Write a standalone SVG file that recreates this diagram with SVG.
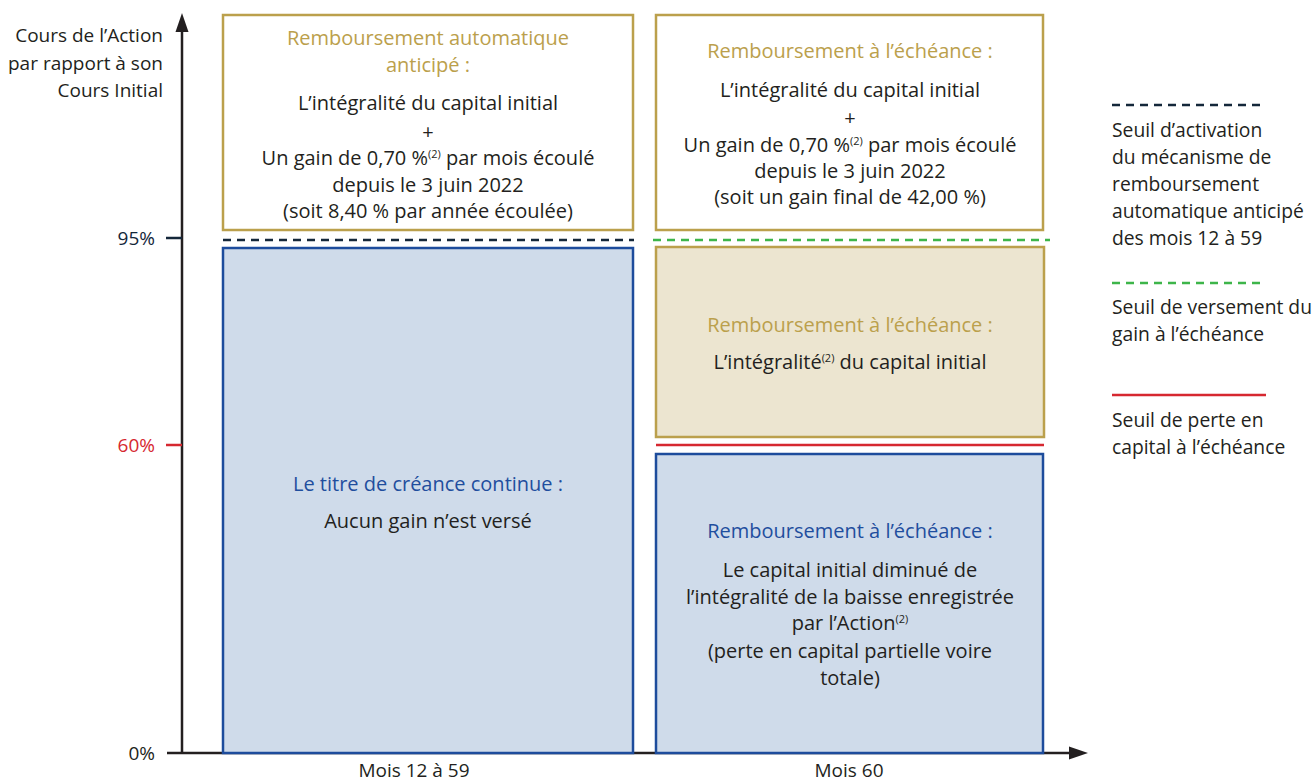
<svg xmlns="http://www.w3.org/2000/svg" width="1314" height="783" viewBox="0 0 1314 783">
<style>
text{font-family:"Open Sans","Noto Sans",sans-serif;font-size:19px;fill:#231F20}
.b{font-size:20px}
.lg{font-size:19.3px}
.c{text-anchor:middle}
.r{text-anchor:end}
.gold{fill:#BBA04C}
.blue{fill:#1F4E9E}
.sup{font-size:11px}
.goldbox{fill:#FFFFFF;stroke:#BBA04C;stroke-width:2.5}
.beigebox{fill:#ECE5D0;stroke:#BBA04C;stroke-width:2.5}
.bluebox{fill:#CFDBEA;stroke:#1D4C9C;stroke-width:2.5}
.axis{stroke:#231F20;stroke-width:2.5;fill:none}
.navy{stroke:#14273A;stroke-width:2.5;stroke-dasharray:8 6;fill:none}
.green{stroke:#3DB54A;stroke-width:2.5;stroke-dasharray:8 6;fill:none}
.red{stroke:#D62830;stroke-width:2.5;fill:none}
</style>
<rect width="1314" height="783" fill="#FFFFFF"/>
<g id="axes">
<line class="axis" x1="182" y1="28" x2="182" y2="754"/>
<polygon points="182,13 175.5,32 188.5,32" fill="#231F20"/>
<line class="axis" x1="167" y1="753" x2="1072" y2="753"/>
<polygon points="1088,753 1069,746.5 1069,759.5" fill="#231F20"/>
<line x1="166" y1="238" x2="182" y2="238" stroke="#14273A" stroke-width="2.5"/>
<line x1="166" y1="445" x2="182" y2="445" stroke="#D62830" stroke-width="2.5"/>
<text class="r" x="163" y="42">Cours de l’Action</text>
<text class="r" x="163" y="70">par rapport à son</text>
<text class="r" x="163" y="97">Cours Initial</text>
<text class="r" x="155" y="245" style="fill:#14273A">95%</text>
<text class="r" x="155" y="452" style="fill:#D62830">60%</text>
<text class="r" x="155" y="760">0%</text>
<text class="c" x="414" y="777">Mois 12 à 59</text>
<text class="c" x="849" y="777">Mois 60</text>
</g>
<g id="thresholds">
<line class="navy" x1="223" y1="240" x2="634" y2="240"/>
<line class="green" x1="653" y1="240" x2="1050" y2="240"/>
<line class="red" x1="656" y1="445" x2="1044" y2="445"/>
</g>
<g id="box-autocall">
<rect class="goldbox" x="223" y="15" width="410" height="215"/>
<text class="c gold b" x="428" y="45">Remboursement automatique</text>
<text class="c gold b" x="428" y="72">anticipé :</text>
<text class="c b" x="428" y="110">L’intégralité du capital initial</text>
<text class="c b" x="428" y="139">+</text>
<text class="c b" x="428" y="165">Un gain de 0,70 %<tspan class="sup" dy="-7">(2)</tspan><tspan dy="7"> par mois écoulé</tspan></text>
<text class="c b" x="428" y="192">depuis le 3 juin 2022</text>
<text class="c b" x="428" y="218">(soit 8,40 % par année écoulée)</text>
</g>
<g id="box-maturity-gain">
<rect class="goldbox" x="656" y="15" width="387" height="215"/>
<text class="c gold b" x="850" y="58">Remboursement à l’échéance :</text>
<text class="c b" x="850" y="97">L’intégralité du capital initial</text>
<text class="c b" x="850" y="125">+</text>
<text class="c b" x="850" y="152">Un gain de 0,70 %<tspan class="sup" dy="-7">(2)</tspan><tspan dy="7"> par mois écoulé</tspan></text>
<text class="c b" x="850" y="178">depuis le 3 juin 2022</text>
<text class="c b" x="850" y="204">(soit un gain final de 42,00 %)</text>
</g>
<g id="box-continue">
<rect class="bluebox" x="223" y="248" width="410" height="505"/>
<text class="c blue b" x="428" y="491">Le titre de créance continue :</text>
<text class="c b" x="428" y="528">Aucun gain n’est versé</text>
</g>
<g id="box-maturity-capital">
<rect class="beigebox" x="656" y="247" width="388" height="190"/>
<text class="c gold b" x="850" y="332">Remboursement à l’échéance :</text>
<text class="c b" x="850" y="369">L’intégralité<tspan class="sup" dy="-7">(2)</tspan><tspan dy="7"> du capital initial</tspan></text>
</g>
<g id="box-maturity-loss">
<rect class="bluebox" x="656" y="454" width="387" height="299"/>
<text class="c blue b" x="850" y="538">Remboursement à l’échéance :</text>
<text class="c b" x="850" y="577">Le capital initial diminué de</text>
<text class="c b" x="850" y="604">l’intégralité de la baisse enregistrée</text>
<text class="c b" x="850" y="630">par l’Action<tspan class="sup" dy="-7">(2)</tspan></text>
<text class="c b" x="850" y="658">(perte en capital partielle voire</text>
<text class="c b" x="850" y="685">totale)</text>
</g>
<g id="legend">
<line class="navy" x1="1112" y1="105" x2="1266" y2="105"/>
<text class="lg" x="1112" y="137">Seuil d’activation</text>
<text class="lg" x="1112" y="164">du mécanisme de</text>
<text class="lg" x="1112" y="191">remboursement</text>
<text class="lg" x="1112" y="218">automatique anticipé</text>
<text class="lg" x="1112" y="245">des mois 12 à 59</text>
<line class="green" x1="1112" y1="283" x2="1266" y2="283"/>
<text class="lg" x="1112" y="314">Seuil de versement du</text>
<text class="lg" x="1112" y="341">gain à l’échéance</text>
<line class="red" x1="1112" y1="395" x2="1266" y2="395"/>
<text class="lg" x="1112" y="427">Seuil de perte en</text>
<text class="lg" x="1112" y="454">capital à l’échéance</text>
</g>
</svg>
